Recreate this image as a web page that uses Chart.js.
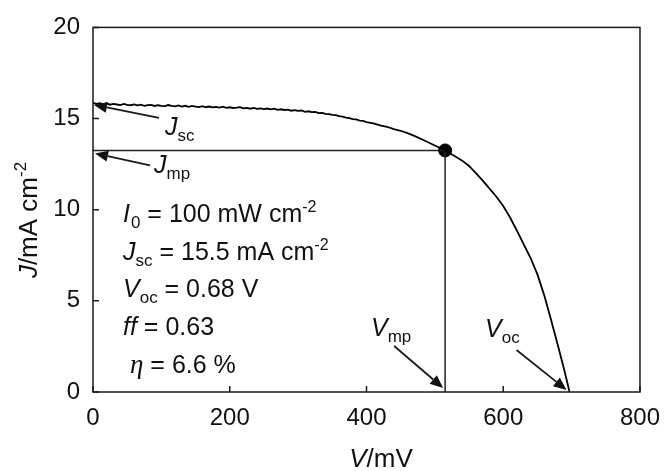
<!DOCTYPE html>
<html><head><meta charset="utf-8">
<script src="https://cdn.jsdelivr.net/npm/chart.js@4.4.1/dist/chart.umd.min.js"></script>
<style>html,body{margin:0;padding:0;background:#fff;}canvas{display:block;}</style>
</head><body>
<canvas id="c" width="672" height="471"></canvas>
<script>
// ---- data ----
const voltageMv = [0,5,10,15,20,25,30,35,40,45,50,55,60,65,70,75,80,85,90,95,100,105,110,115,120,125,130,135,140,145,150,155,160,165,170,175,180,185,190,195,200,205,210,215,220,225,230,235,240,245,250,255,260,265,270,275,280,285,290,295,300,305,310,315,320,325,330,335,340,345,350,355,360,365,370,375,380,385,390,395,400,410,420,430,440,450,460,470,480,490,500,510,515,520,530,540,550,560,570,580,590,600,610,620,630,640,650,660,670,680,690,697];
const currentDensity = [15.86,15.80,15.84,15.78,15.83,15.76,15.80,15.77,15.74,15.80,15.75,15.73,15.78,15.72,15.76,15.70,15.74,15.75,15.69,15.73,15.70,15.68,15.74,15.69,15.67,15.72,15.66,15.70,15.64,15.69,15.66,15.63,15.68,15.62,15.66,15.61,15.64,15.60,15.65,15.59,15.62,15.58,15.60,15.63,15.56,15.59,15.54,15.58,15.53,15.56,15.52,15.55,15.50,15.54,15.48,15.51,15.47,15.49,15.43,15.46,15.42,15.44,15.37,15.40,15.35,15.36,15.30,15.31,15.26,15.24,15.20,15.19,15.13,15.10,15.05,15.02,14.97,14.95,14.89,14.87,14.81,14.74,14.62,14.55,14.42,14.33,14.20,14.05,13.88,13.70,13.52,13.34,13.25,13.14,12.92,12.69,12.40,12.00,11.59,11.16,10.71,10.20,9.57,8.85,8.10,7.35,6.45,5.30,3.95,2.55,1.10,0];
const maxPowerPoint = [515, 13.25];   // [Vmp (mV), Jmp (mA cm-2)]
const shortCircuit = [0, 15.75];      // Jsc marker on the curve
const openCircuit = [697, 0];         // Voc marker on the curve
const xTickValues = [0,200,400,600,800];
const yTickValues = [0,5,10,15,20];

const SANS = '"Liberation Sans", Arial, sans-serif';
const SERIF = '"Liberation Serif", "Times New Roman", serif';
const INK = '#111';

function rich(ctx, x, y, parts){
  let cx = x;
  for (const p of parts){
    const size = p.s || 25;
    ctx.font = (p.i ? 'italic ' : '') + size + 'px ' + (p.f || SANS);
    ctx.fillText(p.t, cx, y + (p.dy || 0));
    cx += ctx.measureText(p.t).width + (p.after || 0);
  }
  return cx - x;
}
function richWidth(ctx, parts){
  let w = 0;
  for (const p of parts){
    const size = p.s || 25;
    ctx.font = (p.i ? 'italic ' : '') + size + 'px ' + (p.f || SANS);
    w += ctx.measureText(p.t).width + (p.after || 0);
  }
  return w;
}
function arrow(ctx, x1, y1, x2, y2){
  const ang = Math.atan2(y2 - y1, x2 - x1);
  const L = 13, W = 5.5;
  const bx = x2 - L * Math.cos(ang), by = y2 - L * Math.sin(ang);
  ctx.beginPath(); ctx.moveTo(x1, y1); ctx.lineTo(bx, by); ctx.stroke();
  ctx.beginPath();
  ctx.moveTo(x2, y2);
  ctx.lineTo(bx + W * Math.sin(ang), by - W * Math.cos(ang));
  ctx.lineTo(bx - W * Math.sin(ang), by + W * Math.cos(ang));
  ctx.closePath(); ctx.fill();
}
const SUB = {s:17, dy:6};
const SUP = {s:16, dy:-10};

const deco = {
  id: 'deco',
  afterDatasetsDraw(chart){
    const {ctx, chartArea: a, scales: {x, y}} = chart;
    ctx.save();
    ctx.strokeStyle = '#1a1a1a'; ctx.fillStyle = INK;
    ctx.lineWidth = 1.5;
    ctx.strokeRect(a.left, a.top, a.right - a.left, a.bottom - a.top);
    ctx.beginPath();
    x.ticks.forEach(t => { const px = x.getPixelForValue(t.value); ctx.moveTo(px, a.bottom); ctx.lineTo(px, a.bottom - 6); });
    y.ticks.forEach(t => { const py = y.getPixelForValue(t.value); ctx.moveTo(a.left, py); ctx.lineTo(a.left + 6, py); });
    ctx.stroke();

    // arrows
    ctx.lineWidth = 1.8;
    const jscH = [x.getPixelForValue(shortCircuit[0]) + 1, y.getPixelForValue(shortCircuit[1])];
    arrow(ctx, jscH[0] + 65, jscH[1] + 13, jscH[0], jscH[1]);
    const jmpH = [x.getPixelForValue(0) + 2, y.getPixelForValue(maxPowerPoint[1]) + 3];
    arrow(ctx, jmpH[0] + 55, jmpH[1] + 12, jmpH[0], jmpH[1]);
    const vmpH = [x.getPixelForValue(maxPowerPoint[0]) - 2, y.getPixelForValue(0) - 4];
    arrow(ctx, vmpH[0] - 49, vmpH[1] - 42, vmpH[0], vmpH[1]);
    const vocH = [x.getPixelForValue(openCircuit[0]) - 3, y.getPixelForValue(0) - 2];
    arrow(ctx, vocH[0] - 50, vocH[1] - 40, vocH[0], vocH[1]);

    // labels
    ctx.textAlign = 'left'; ctx.textBaseline = 'alphabetic';
    rich(ctx, 165, 135, [{t:'J', i:1}, Object.assign({t:'sc'}, SUB)]);
    rich(ctx, 154, 173, [{t:'J', i:1}, Object.assign({t:'mp'}, SUB)]);
    rich(ctx, 371, 336, [{t:'V', i:1}, Object.assign({t:'mp'}, SUB)]);
    rich(ctx, 485, 337, [{t:'V', i:1}, Object.assign({t:'oc'}, SUB)]);

    // parameter block
    rich(ctx, 123, 222, [{t:'I', i:1, after:1}, Object.assign({t:'0'}, SUB), {t:' = 100 mW cm'}, Object.assign({t:'-2'}, SUP)]);
    rich(ctx, 123, 260, [{t:'J', i:1}, Object.assign({t:'sc'}, SUB), {t:' = 15.5 mA cm'}, Object.assign({t:'-2'}, SUP)]);
    rich(ctx, 123, 297, [{t:'V', i:1}, Object.assign({t:'oc'}, SUB), {t:' = 0.68 V'}]);
    rich(ctx, 123, 335, [{t:'ff', i:1}, {t:' = 0.63'}]);
    rich(ctx, 130, 373, [{t:'\u03b7', i:1, f:SERIF, s:27}, {t:' = 6.6 %'}]);

    // axis titles
    const xt = [{t:'V', i:1, s:26}, {t:'/mV', s:26}];
    const xw = richWidth(ctx, xt);
    rich(ctx, 381 - xw / 2, 467, xt);
    const yt = [{t:'J', i:1, s:26}, {t:'/mA cm', s:26}, {t:'-2', s:17, dy:-11}];
    const yw = richWidth(ctx, yt);
    ctx.translate(37, 220); ctx.rotate(-Math.PI / 2);
    rich(ctx, -yw / 2, 0, yt);
    ctx.restore();
  }
};

new Chart(document.getElementById('c'), {
  type: 'scatter',
  data: {
    datasets: [
      { data: voltageMv.map((v, i) => ({x: v, y: currentDensity[i]})), showLine: true,
        borderColor: '#000', borderWidth: 1.8, pointRadius: 0, tension: 0 },
      { data: [{x: 0, y: maxPowerPoint[1]}, {x: maxPowerPoint[0], y: maxPowerPoint[1]}, {x: maxPowerPoint[0], y: 0}],
        showLine: true, borderColor: '#222', borderWidth: 1.5, pointRadius: 0 },
      { data: [{x: maxPowerPoint[0], y: maxPowerPoint[1]}], pointRadius: 6.5,
        backgroundColor: '#000', borderColor: '#000', showLine: false }
    ]
  },
  options: {
    responsive: false, animation: false, devicePixelRatio: 1,
    layout: { padding: { top: 22, right: 26, bottom: 0, left: 0 } },
    plugins: { legend: { display: false }, tooltip: { enabled: false } },
    scales: {
      x: { type: 'linear', min: 0, max: 800,
        afterBuildTicks: s => { s.ticks = xTickValues.map(v => ({value: v})); },
        afterFit: s => { s.height = 79; },
        grid: { display: false, drawTicks: false }, border: { display: false },
        ticks: { padding: 12, color: INK, font: { family: SANS, size: 24 } } },
      y: { min: 0, max: 20,
        afterBuildTicks: s => { s.ticks = yTickValues.map(v => ({value: v})); },
        afterFit: s => { s.width = 93; },
        grid: { display: false, drawTicks: false }, border: { display: false },
        ticks: { padding: 13, color: INK, font: { family: SANS, size: 24 } } }
    }
  },
  plugins: [deco]
});
</script>
</body></html>
